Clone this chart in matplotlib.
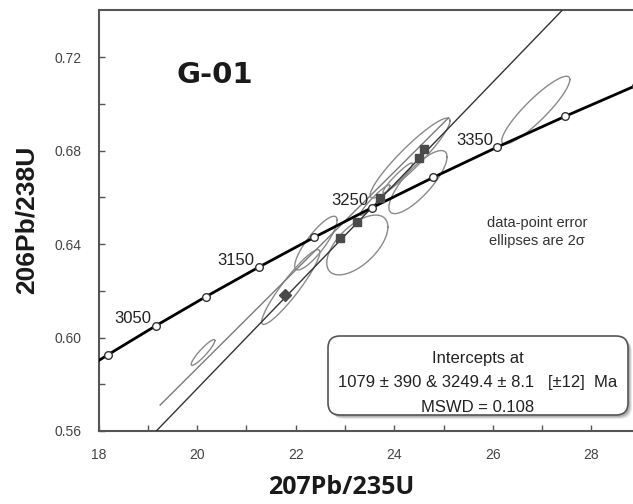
import numpy as np
import matplotlib
matplotlib.use("Agg")
import matplotlib.pyplot as plt
from matplotlib.patches import FancyBboxPatch

# concordia ticks (Ma) and their ratios
conc_age = [3000, 3050, 3100, 3150, 3200, 3250, 3300, 3350, 3400, 3450]
conc_x = [18.19, 19.16, 20.18, 21.25, 22.37, 23.55, 24.79, 26.09, 27.46, 28.90]
conc_y = [0.5926, 0.6050, 0.6175, 0.6301, 0.6428, 0.6556, 0.6685, 0.6815, 0.6946, 0.7078]
conc_start = (18.0, 0.5901)          # where the curve meets the left axis
labelled_ages = [3050, 3150, 3250, 3350, 3450]

# discordia through lower and upper intercepts (1079 Ma, 3249.4 Ma)
disc_x = [1.894, 23.54]
disc_y = [0.1822, 0.6555]
# error envelope (upper side)
env_x = [19.25, 25.10]
env_y = [0.5711, 0.6940]

# 2-sigma error ellipses: centre, half-width x, half-width y, rho
ell_cx = [20.12, 21.90, 22.41, 23.25, 24.32, 24.48, 24.07, 23.61, 26.87]
ell_cy = [0.5936, 0.6216, 0.6404, 0.6396, 0.6768, 0.6665, 0.6683, 0.6588, 0.6973]
ell_ex = [0.24, 0.59, 0.43, 0.62, 0.81, 0.59, 0.30, 0.30, 0.69]
ell_ey = [0.0055, 0.0160, 0.0115, 0.0128, 0.0171, 0.0135, 0.0064, 0.0065, 0.0145]
ell_rho = [0.92, 0.93, 0.85, 0.60, 0.93, 0.80, 0.95, 0.95, 0.90]

# analysis centres
pt_x = [21.78, 22.90, 23.24, 23.71, 24.50, 24.60]
pt_y = [0.6182, 0.6425, 0.6496, 0.6597, 0.6770, 0.6805]

plt.rcParams['font.family'] = ['Liberation Sans', 'DejaVu Sans']

fig = plt.figure(figsize=(6.33, 5.04), dpi=100)
ax = fig.add_axes([98.5 / 633, 73 / 504, 534.5 / 633, 421 / 504])
ax.set_xlim(18, 18 + 534.5 / 49.3)
ax.set_ylim(0.56, 0.56 + 421 / 2337)

# ellipses
t = np.linspace(0, 2 * np.pi, 200)
for cx, cy, ex, ey, r in zip(ell_cx, ell_cy, ell_ex, ell_ey, ell_rho):
    xs = cx + ex * np.cos(t)
    ys = cy + ey * (r * np.cos(t) + np.sqrt(1 - r ** 2) * np.sin(t))
    ax.plot(xs, ys, color='#8a8a8a', lw=1.0, zorder=2)

# discordia + envelope
ax.axline((disc_x[0], disc_y[0]), (disc_x[1], disc_y[1]), color='#333333', lw=1.0, zorder=3)
ax.plot(env_x, env_y, color='#7a7a7a', lw=1.0, zorder=3)

# concordia
ax.plot([conc_start[0]] + conc_x, [conc_start[1]] + conc_y, color='black', lw=2.0, zorder=4)
ax.plot(conc_x, conc_y, 'o', ms=5.5, mfc='white', mec='#333333', mew=1.0, zorder=5)
for age, x, y in zip(conc_age, conc_x, conc_y):
    if age in labelled_ages:
        ax.annotate(str(age), (x, y), xytext=(-3, 5), textcoords='offset points',
                    ha='right', va='center', fontsize=12, color='#222222', zorder=6)

# data points
ax.plot(pt_x[:1], pt_y[:1], 'D', ms=6, color='#4a4a4a', zorder=6)
ax.plot(pt_x[1:], pt_y[1:], 's', ms=6, color='#4a4a4a', zorder=6)

# axes styling
ax.set_xticks(np.arange(18, 29, 2))
ax.set_xticks(np.arange(19, 29, 2), minor=True)
ax.set_yticks([0.56, 0.60, 0.64, 0.68, 0.72])
ax.set_yticks([0.58, 0.62, 0.66, 0.70], minor=True)
ax.set_yticklabels(['0.56', '0.60', '0.64', '0.68', '0.72'])
ax.tick_params(which='both', direction='in', length=4, width=1, color='#555555',
               labelsize=10, labelcolor='#444444')
ax.tick_params(axis='x', pad=12)
ax.tick_params(axis='y', pad=12)
ax.spines['right'].set_visible(False)
for s in ('left', 'bottom', 'top'):
    ax.spines[s].set_color('#555555')
    ax.spines[s].set_linewidth(1.5)

fig.text(341 / 633, 1 - 487 / 504, '207Pb/235U', ha='center', va='center',
         fontsize=18, fontweight='bold', family=['Open Sans', 'DejaVu Sans'], color='#1a1a1a')
fig.text(27 / 633, 1 - 220 / 504, '206Pb/238U', ha='center', va='center', rotation=90,
         fontsize=19, fontweight='bold', color='#1a1a1a')
fig.text(215 / 633, 1 - 75 / 504, 'G-01', ha='center', va='center',
         fontsize=21, fontweight='bold', family='DejaVu Sans', color='#1a1a1a')

ax.text(26.9, 0.6451, 'data-point error\nellipses are 2σ', ha='center', va='center',
        fontsize=10.5, color='#333333', linespacing=1.35)

# intercept box with soft shadow (inches from bottom-left)
bx, by, bw, bh = 3.28, 0.89, 3.00, 0.79
for k, a in ((4, 0.12), (3, 0.18), (2, 0.25)):
    fig.patches.append(FancyBboxPatch((bx + k / 100, by - k / 100), bw, bh,
                                      boxstyle='round,pad=0,rounding_size=0.12',
                                      transform=fig.dpi_scale_trans, fc='#555555',
                                      ec='none', alpha=a, zorder=7))
fig.patches.append(FancyBboxPatch((bx, by), bw, bh, boxstyle='round,pad=0,rounding_size=0.12',
                                  transform=fig.dpi_scale_trans, fc='white',
                                  ec='#555555', lw=1.2, zorder=8))
box_lines = ['Intercepts at', '1079 ± 390 & 3249.4 ± 8.1   [±12]  Ma', 'MSWD = 0.108']
for i, line in enumerate(box_lines):
    fig.text((bx + bw / 2) / 6.33, (1.46 - 0.245 * i) / 5.04, line, ha='center', va='center',
             fontsize=12, color='#222222', zorder=9)

fig.savefig('out.png', dpi=100)
